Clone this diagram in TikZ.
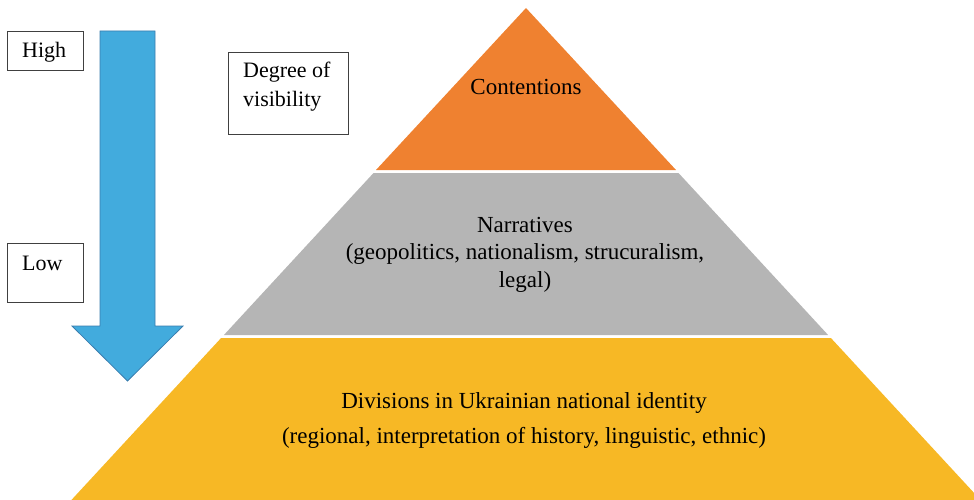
\documentclass[tikz,border=0pt]{standalone}
\usepackage{fontspec}
\setmainfont{Liberation Serif}
\begin{document}
\definecolor{topclr}{HTML}{EF8130}
\definecolor{midclr}{HTML}{B5B5B5}
\definecolor{baseclr}{HTML}{F7B825}
\definecolor{arrowclr}{HTML}{42ABDD}
\definecolor{arrowline}{HTML}{3A7DAE}
\definecolor{boxline}{HTML}{404040}
\begin{tikzpicture}[x=1pt,y=-1pt,
  labelbox/.style={draw=boxline,line width=1.1pt,fill=white,rectangle,inner sep=0pt,anchor=north west},
  boxtext/.style={anchor=base west,inner sep=0pt,font=\fontsize{22}{29}\selectfont,align=left},
  layertext/.style={align=center,inner sep=0pt,anchor=base,font=\fontsize{23}{27.5}\selectfont}]
\useasboundingbox (0,0) rectangle (974,500);
\clip (0,0) rectangle (974,500);

% pyramid: apex at (526,8), half-width grows 0.924 per unit of depth
\fill[topclr]  (526,8) -- (676,170) -- (376,170) -- cycle;
\fill[midclr]  (373.5,173) -- (678.5,173) -- (828.1,335) -- (223.9,335) -- cycle;
\fill[baseclr] (221.1,338) -- (830.9,338) -- (980.6,500) -- (71.4,500) -- cycle;

% layer captions (base anchor sits on the last line)
\node[layertext] (contentions) at (526,95) {Contentions};
\node[layertext] (narratives) at (525,287)
  {Narratives\\(geopolitics, nationalism, strucuralism,\\legal)};
\node[layertext,font=\fontsize{23}{35}\selectfont] (divisions) at (524,443)
  {Divisions in Ukrainian national identity\\(regional, interpretation of history, linguistic, ethnic)};

% downward block arrow
\filldraw[fill=arrowclr,draw=arrowline,line width=0.8pt,line join=miter]
  (100,31) -- (155,31) -- (155,326) -- (183,326) -- (127.5,381)
  -- (72,326) -- (100,326) -- cycle;

% label boxes
\node[labelbox,minimum width=76pt,minimum height=39pt] (highbox) at (7,31) {};
\node[boxtext] (high) at (22,58) {High};
\node[labelbox,minimum width=76pt,minimum height=59pt] (lowbox) at (7,243) {};
\node[boxtext] (low) at (22,270) {Low};
\node[labelbox,minimum width=120pt,minimum height=82pt] (degreebox) at (228,52) {};
\node[boxtext] (degree) at (243,107) {Degree of\\visibility};
\end{tikzpicture}
\end{document}
